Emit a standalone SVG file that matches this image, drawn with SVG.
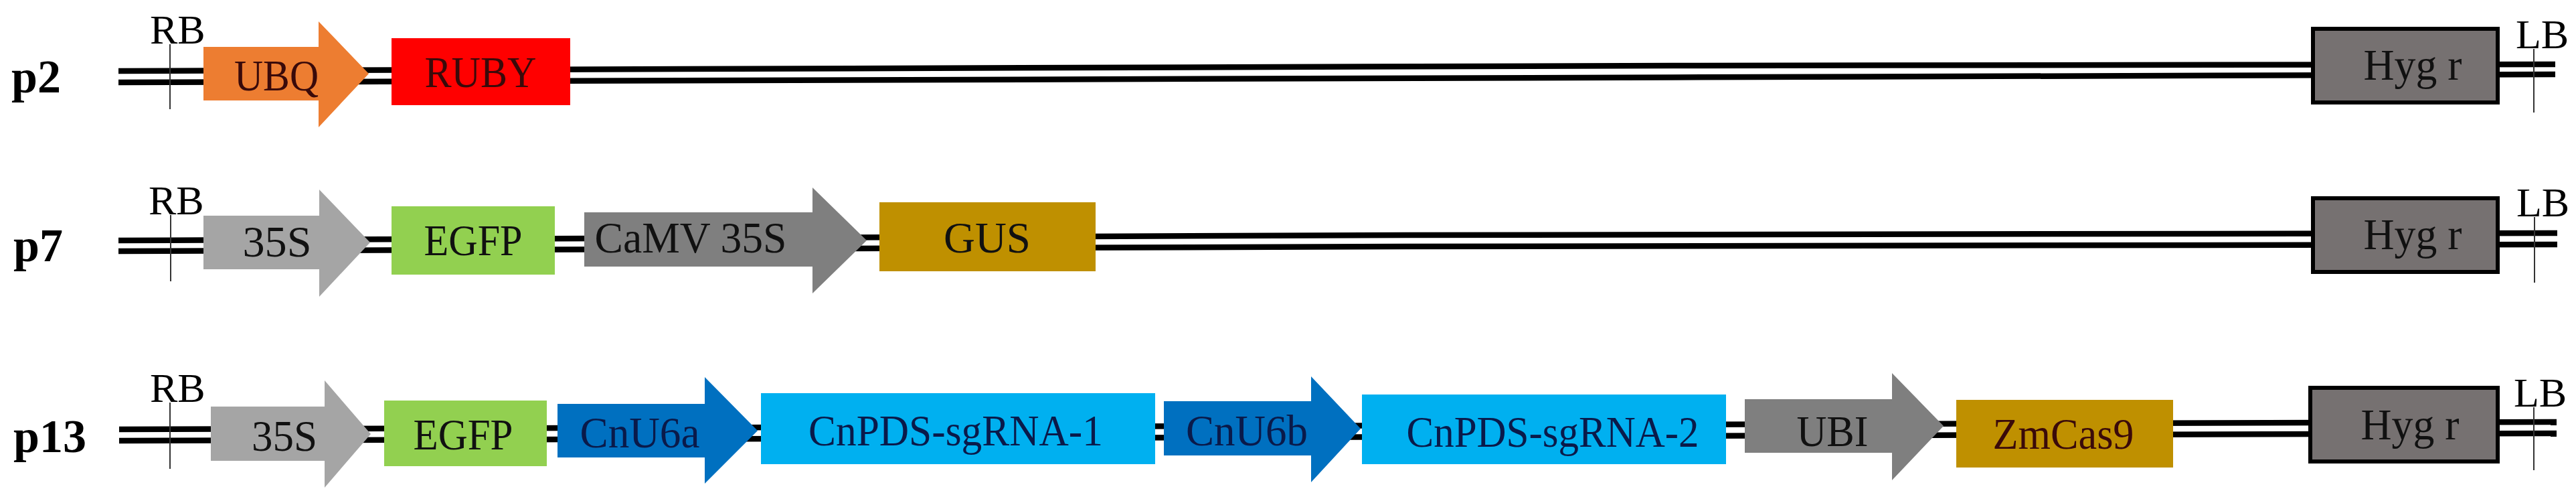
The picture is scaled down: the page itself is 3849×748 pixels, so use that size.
<svg xmlns="http://www.w3.org/2000/svg" width="3849" height="748" viewBox="0 0 3849 748">
<style>
.bb{fill:none;stroke:#000;stroke-width:8.5}
.tick{stroke:#333;stroke-width:2}
.t{font-family:"Liberation Serif","Times New Roman",serif;font-size:66px;text-anchor:middle}
.lab{font-family:"Liberation Serif","Times New Roman",serif;font-size:70px;font-weight:bold;fill:#000}
.br{font-family:"Liberation Serif","Times New Roman",serif;font-size:62px;fill:#000}
.hyg{fill:#767171;stroke:#000;stroke-width:6}
.ubq{fill:#ED7D31}.ruby{fill:#FF0000}.g1{fill:#A5A5A5}.g2{fill:#7F7F7F}
.egfp{fill:#92D050}.gus{fill:#BF9000}.u6{fill:#0070C0}.sg{fill:#00B0F0}
.dk{fill:#111}.nv{fill:#0A1A4A}.mr{fill:#3A0A0A}
</style>
<rect width="3849" height="748" fill="#fff"/>
<g id="connectors">
<polyline class="bb" points="177,106 2500,98 3818,96"/>
<polyline class="bb" points="177,123 2500,115.5 3818,111"/>
<polyline class="bb" points="177,359 2100,351 3821,348"/>
<polyline class="bb" points="177,375 2100,368 3821,365"/>
<polyline class="bb" points="178,641 3820,630"/>
<polyline class="bb" points="178,658 3820,647"/>
</g>
<g id="row-p2">
<text class="lab" x="17" y="138">p2</text>
<g id="p2-RB"><text class="br" x="224" y="65">RB</text><line class="tick" x1="254" y1="66" x2="254" y2="163"/></g>
<g id="p2-UBQ"><polygon class="ubq" points="304,70 476,70 476,32 551,110 476,190 476,150 304,150"/><text class="t mr" x="413" y="135" textLength="126" lengthAdjust="spacingAndGlyphs">UBQ</text></g>
<g id="p2-RUBY"><rect class="ruby" x="585" y="57" width="267" height="100"/><text class="t mr" x="718" y="130" textLength="167" lengthAdjust="spacingAndGlyphs">RUBY</text></g>
<g id="p2-Hyg"><rect class="hyg" x="3456" y="43" width="276" height="110"/><text class="t dk" x="3605" y="119" textLength="147" lengthAdjust="spacingAndGlyphs">Hyg r</text></g>
<g id="p2-LB"><text class="br" x="3759" y="72">LB</text><line class="tick" x1="3786" y1="73" x2="3786" y2="168"/></g>
</g>
<g id="row-p7">
<text class="lab" x="20" y="390">p7</text>
<g id="p7-RB"><text class="br" x="222" y="320">RB</text><line class="tick" x1="255" y1="321" x2="255" y2="420"/></g>
<g id="p7-35S"><polygon class="g1" points="304,322 477,322 477,283 553,362 477,443 477,402 304,402"/><text class="t dk" x="414" y="383" textLength="103" lengthAdjust="spacingAndGlyphs">35S</text></g>
<g id="p7-EGFP"><rect class="egfp" x="585" y="308" width="244" height="102"/><text class="t dk" x="707" y="381" textLength="147" lengthAdjust="spacingAndGlyphs">EGFP</text></g>
<g id="p7-CaMV"><polygon class="g2" points="873,317 1214,317 1214,280 1295,359 1214,438 1214,398 873,398"/><text class="t dk" x="1032" y="377" textLength="287" lengthAdjust="spacingAndGlyphs">CaMV 35S</text></g>
<g id="p7-GUS"><rect class="gus" x="1314" y="302" width="323" height="103"/><text class="t dk" x="1475" y="377" textLength="130" lengthAdjust="spacingAndGlyphs">GUS</text></g>
<g id="p7-Hyg"><rect class="hyg" x="3456" y="296" width="276" height="110"/><text class="t dk" x="3605" y="372" textLength="147" lengthAdjust="spacingAndGlyphs">Hyg r</text></g>
<g id="p7-LB"><text class="br" x="3760" y="323">LB</text><line class="tick" x1="3787" y1="324" x2="3787" y2="422"/></g>
</g>
<g id="row-p13">
<text class="lab" x="20" y="675">p13</text>
<g id="p13-RB"><text class="br" x="224" y="600">RB</text><line class="tick" x1="254" y1="601" x2="254" y2="700"/></g>
<g id="p13-35S"><polygon class="g1" points="315,607 485,607 485,568 554,648 485,728 485,688 315,688"/><text class="t dk" x="425" y="673" textLength="98" lengthAdjust="spacingAndGlyphs">35S</text></g>
<g id="p13-EGFP"><rect class="egfp" x="574" y="598" width="243" height="98"/><text class="t dk" x="692" y="671" textLength="149" lengthAdjust="spacingAndGlyphs">EGFP</text></g>
<g id="p13-CnU6a"><polygon class="u6" points="833,603 1053,603 1053,563 1132,643 1053,722 1053,683 833,683"/><text class="t nv" x="956" y="668" textLength="179" lengthAdjust="spacingAndGlyphs">CnU6a</text></g>
<g id="p13-sg1"><rect class="sg" x="1137" y="587" width="589" height="106"/><text class="t nv" x="1428" y="665" textLength="440" lengthAdjust="spacingAndGlyphs">CnPDS-sgRNA-1</text></g>
<g id="p13-CnU6b"><polygon class="u6" points="1739,599 1959,599 1959,562 2033,640 1959,720 1959,680 1739,680"/><text class="t nv" x="1863" y="665" textLength="182" lengthAdjust="spacingAndGlyphs">CnU6b</text></g>
<g id="p13-sg2"><rect class="sg" x="2035" y="589" width="544" height="104"/><text class="t nv" x="2320" y="667" textLength="437" lengthAdjust="spacingAndGlyphs">CnPDS-sgRNA-2</text></g>
<g id="p13-UBI"><polygon class="g2" points="2607,596 2827,596 2827,557 2904,636 2827,717 2827,676 2607,676"/><text class="t dk" x="2738" y="666" textLength="107" lengthAdjust="spacingAndGlyphs">UBI</text></g>
<g id="p13-ZmCas9"><rect class="gus" x="2923" y="597" width="324" height="101"/><text class="t mr" x="3083" y="670" textLength="211" lengthAdjust="spacingAndGlyphs">ZmCas9</text></g>
<g id="p13-Hyg"><rect class="hyg" x="3452" y="579" width="280" height="110"/><text class="t dk" x="3601" y="656" textLength="147" lengthAdjust="spacingAndGlyphs">Hyg r</text></g>
<g id="p13-LB"><text class="br" x="3756" y="607">LB</text><line class="tick" x1="3786" y1="608" x2="3786" y2="702"/></g>
</g>
</svg>
